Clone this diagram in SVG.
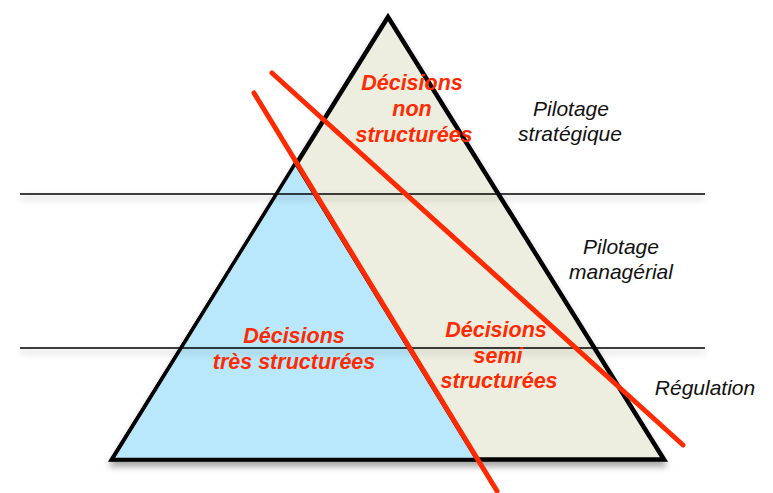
<svg xmlns="http://www.w3.org/2000/svg" width="773" height="493" viewBox="0 0 773 493">
<defs>
<filter id="sh" x="-10%" y="-10%" width="120%" height="130%">
<feDropShadow dx="0" dy="5" stdDeviation="3" flood-color="#000" flood-opacity="0.35"/>
</filter>
<filter id="lsh" x="-5%" y="-200%" width="110%" height="800%">
<feDropShadow dx="0" dy="4" stdDeviation="3" flood-color="#000" flood-opacity="0.3"/>
</filter>
</defs>
<style>
.red{font-family:"Liberation Sans",Arial,sans-serif;font-weight:bold;font-style:italic;font-size:21.5px;fill:#ff2a00;text-anchor:middle}
.blk{font-family:"Liberation Sans",Arial,sans-serif;font-style:italic;font-size:21px;fill:#111;text-anchor:middle}
.rl{stroke:#ff2a00;stroke-width:5;stroke-linecap:round;fill:none}
.hl{stroke:#000;stroke-width:1.3;fill:none}
</style>
<rect width="773" height="493" fill="#fff"/>
<g id="big-triangle" filter="url(#sh)">
<polygon points="388,17 112,459.5 664,459.5" fill="#eeeee0" stroke="#000" stroke-width="4.5" stroke-linejoin="miter"/>
</g>
<g id="small-triangle">
<polygon points="295.5,163 112,459.5 477,459.5" fill="#b9e8fc" stroke="#000" stroke-width="3.5" stroke-linejoin="miter"/>
</g>
<g id="levels" filter="url(#lsh)">
<line class="hl" x1="20" y1="194" x2="705" y2="194"/>
<line class="hl" x1="20" y1="348" x2="705" y2="348"/>
</g>
<g id="connectors">
<line class="rl" x1="272" y1="73" x2="683" y2="445"/>
<line class="rl" x1="254" y1="93" x2="497" y2="491"/>
</g>
<g id="non-structurees">
<text class="red" x="412" y="90">Décisions</text>
<text class="red" x="412" y="116">non</text>
<text class="red" x="414" y="142">structurées</text>
</g>
<g id="tres-structurees">
<text class="red" x="294" y="343">Décisions</text>
<text class="red" x="294" y="369">très structurées</text>
</g>
<g id="semi-structurees">
<text class="red" x="496" y="337">Décisions</text>
<text class="red" x="498" y="363">semi</text>
<text class="red" x="499" y="388">structurées</text>
</g>
<g id="pilotage-strategique">
<text class="blk" x="571" y="116">Pilotage</text>
<text class="blk" x="570" y="141">stratégique</text>
</g>
<g id="pilotage-managerial">
<text class="blk" x="621" y="254">Pilotage</text>
<text class="blk" x="621" y="279">managérial</text>
</g>
<g id="regulation">
<text class="blk" x="705" y="395">Régulation</text>
</g>
</svg>
